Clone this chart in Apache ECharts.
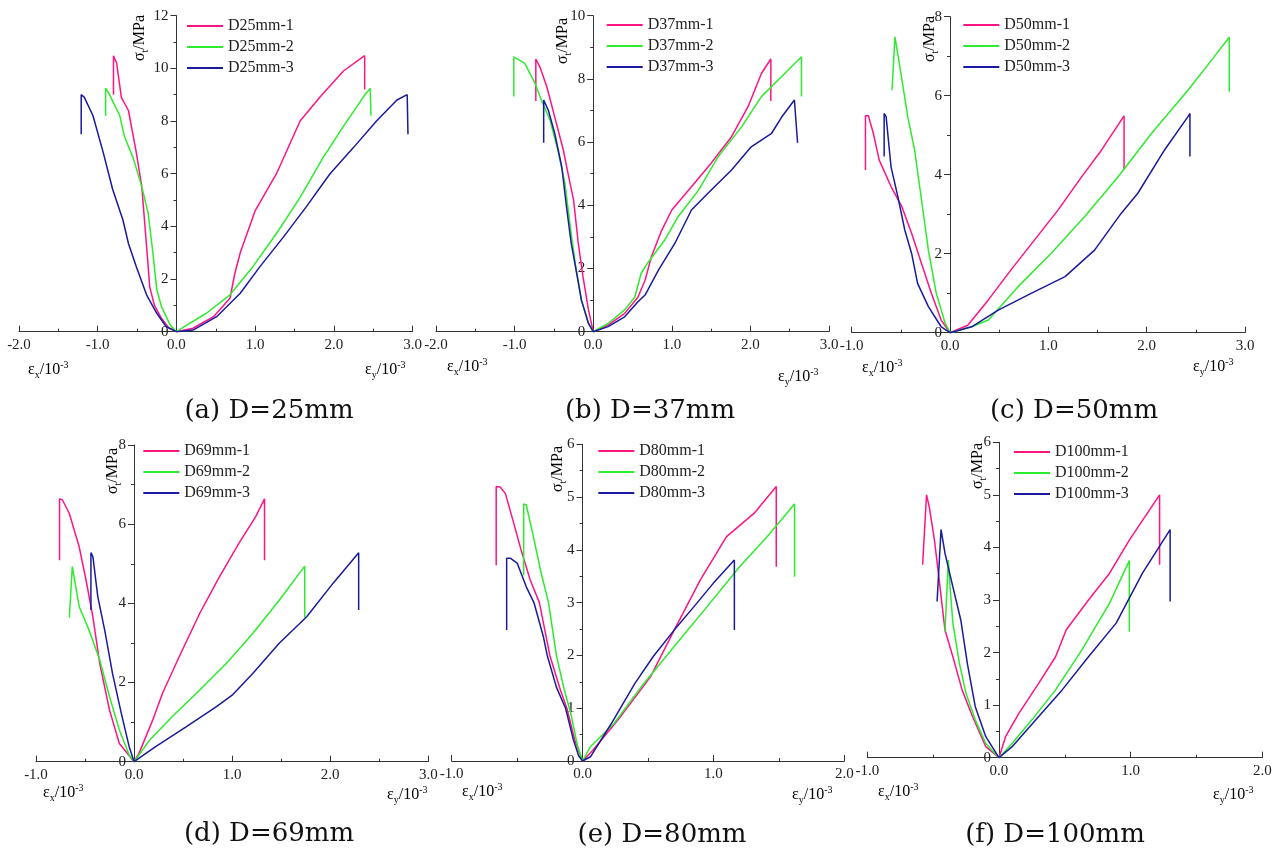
<!DOCTYPE html>
<html>
<head>
<meta charset="utf-8">
<script src="https://cdn.jsdelivr.net/npm/echarts@6.0.0/dist/echarts.min.js"></script>
<style>
  html, body { margin: 0; padding: 0; background: #fff; }
  #main { width: 1277px; height: 849px; }
</style>
</head>
<body>
<div id="main"></div>
<script>
"use strict";

// stress-strain curves, [strain (10^-3), stress (MPa)]
// left branch = lateral strain (negative), right branch = axial strain
var d25_1 = [[-0.80, 9.0], [-0.80, 10.48], [-0.76, 10.2], [-0.70, 8.9], [-0.61, 8.4], [-0.51, 6.8], [-0.44, 5.5], [-0.40, 4.0], [-0.36, 2.5], [-0.34, 1.7], [-0.28, 1.0], [-0.2, 0.55], [-0.1, 0.15], [0, 0],
  [0.21, 0.13], [0.47, 0.57], [0.68, 1.27], [0.74, 2.2], [0.81, 3.0], [1.0, 4.6], [1.27, 6.0], [1.57, 8.0], [1.82, 8.9], [2.12, 9.9], [2.39, 10.48], [2.39, 9.2]];
var d25_2 = [[-0.90, 8.2], [-0.90, 9.25], [-0.85, 9.0], [-0.72, 8.2], [-0.66, 7.4], [-0.55, 6.6], [-0.44, 5.5], [-0.36, 4.5], [-0.30, 3.0], [-0.25, 1.6], [-0.19, 0.95], [-0.08, 0.25], [0, 0],
  [0.13, 0.25], [0.38, 0.7], [0.68, 1.4], [0.97, 2.47], [1.27, 3.73], [1.57, 5.1], [1.86, 6.6], [2.12, 7.8], [2.37, 8.9], [2.46, 9.24], [2.47, 8.2]];
var d25_3 = [[-1.21, 7.5], [-1.21, 9.0], [-1.17, 8.9], [-1.06, 8.2], [-0.93, 6.8], [-0.81, 5.4], [-0.68, 4.24], [-0.61, 3.35], [-0.51, 2.47], [-0.38, 1.4], [-0.25, 0.7], [-0.13, 0.19], [0, 0],
  [0.21, 0.06], [0.51, 0.57], [0.81, 1.46], [1.06, 2.47], [1.36, 3.6], [1.65, 4.75], [1.95, 6.0], [2.25, 7.0], [2.54, 8.0], [2.8, 8.8], [2.93, 9.0], [2.94, 7.5]];

var d37_1 = [[-0.73, 7.3], [-0.73, 8.63], [-0.68, 8.39], [-0.59, 7.75], [-0.49, 6.8], [-0.38, 5.75], [-0.32, 5.0], [-0.25, 4.17], [-0.19, 2.8], [-0.13, 1.74], [-0.06, 0.69], [0, 0],
  [0.19, 0.21], [0.4, 0.58], [0.57, 1.1], [0.66, 1.63], [0.74, 2.37], [0.87, 3.2], [1.0, 3.85], [1.25, 4.59], [1.5, 5.33], [1.76, 6.17], [1.97, 7.12], [2.14, 8.17], [2.26, 8.63], [2.26, 7.3]];
var d37_2 = [[-1.01, 7.44], [-1.01, 8.7], [-0.87, 8.49], [-0.74, 7.86], [-0.66, 7.33], [-0.55, 6.7], [-0.45, 5.75], [-0.36, 4.7], [-0.28, 3.1], [-0.21, 1.85], [-0.15, 1.0], [-0.06, 0.26], [0, 0],
  [0.19, 0.26], [0.4, 0.69], [0.53, 1.1], [0.61, 1.85], [0.7, 2.2], [0.91, 2.9], [1.08, 3.64], [1.34, 4.48], [1.59, 5.54], [1.89, 6.49], [2.14, 7.44], [2.48, 8.28], [2.65, 8.7], [2.65, 7.44]];
var d37_3 = [[-0.63, 5.98], [-0.63, 7.33], [-0.57, 7.0], [-0.49, 6.28], [-0.40, 5.22], [-0.34, 3.96], [-0.28, 2.8], [-0.21, 1.85], [-0.15, 1.0], [-0.06, 0.26], [0, 0],
  [0.19, 0.16], [0.4, 0.47], [0.57, 0.95], [0.66, 1.16], [0.83, 1.95], [1.04, 2.8], [1.25, 3.85], [1.46, 4.38], [1.76, 5.12], [2.01, 5.85], [2.27, 6.28], [2.4, 6.8], [2.56, 7.33], [2.6, 5.98]];

var d50_1 = [[-0.86, 4.12], [-0.86, 5.49], [-0.83, 5.49], [-0.78, 5.05], [-0.72, 4.37], [-0.6, 3.7], [-0.49, 3.19], [-0.39, 2.51], [-0.29, 1.75], [-0.19, 1.0], [-0.09, 0.32], [0, 0],
  [0.18, 0.19], [0.39, 0.83], [0.62, 1.59], [0.86, 2.35], [1.1, 3.11], [1.34, 3.95], [1.54, 4.62], [1.77, 5.49], [1.77, 4.12]];
var d50_2 = [[-0.59, 6.14], [-0.56, 7.49], [-0.51, 6.73], [-0.43, 5.47], [-0.36, 4.62], [-0.29, 3.36], [-0.22, 2.09], [-0.14, 1.0], [-0.05, 0.24], [0, 0],
  [0.22, 0.15], [0.39, 0.32], [0.69, 1.16], [1.03, 2.01], [1.37, 2.94], [1.71, 3.95], [2.05, 5.05], [2.42, 6.14], [2.66, 6.9], [2.84, 7.48], [2.84, 6.1]];
var d50_3 = [[-0.67, 4.46], [-0.67, 5.55], [-0.65, 5.47], [-0.6, 4.2], [-0.53, 3.44], [-0.46, 2.6], [-0.39, 2.0], [-0.33, 1.25], [-0.22, 0.66], [-0.09, 0.15], [0, 0],
  [0.22, 0.15], [0.49, 0.57], [0.83, 1.0], [1.17, 1.42], [1.47, 2.09], [1.74, 3.02], [1.91, 3.53], [2.18, 4.62], [2.42, 5.47], [2.44, 5.55], [2.44, 4.46]];

var d69_1 = [[-0.76, 5.09], [-0.76, 6.64], [-0.73, 6.61], [-0.66, 6.27], [-0.56, 5.43], [-0.49, 4.59], [-0.42, 3.66], [-0.35, 2.48], [-0.25, 1.3], [-0.15, 0.46], [0, 0],
  [0.05, 0.21], [0.19, 1.05], [0.29, 1.73], [0.46, 2.65], [0.67, 3.75], [0.87, 4.67], [1.07, 5.52], [1.24, 6.19], [1.33, 6.64], [1.33, 5.09]];
var d69_2 = [[-0.66, 3.64], [-0.63, 4.93], [-0.56, 3.92], [-0.46, 3.33], [-0.35, 2.57], [-0.25, 1.64], [-0.15, 0.8], [-0.05, 0.17], [0, 0],
  [0.16, 0.55], [0.39, 1.14], [0.67, 1.81], [0.94, 2.48], [1.21, 3.24], [1.48, 4.08], [1.74, 4.94], [1.74, 3.64]];
var d69_3 = [[-0.44, 3.83], [-0.44, 5.28], [-0.42, 5.18], [-0.37, 4.17], [-0.3, 3.33], [-0.22, 2.23], [-0.13, 1.22], [-0.05, 0.38], [0, 0],
  [0.22, 0.38], [0.53, 0.88], [0.84, 1.39], [1.0, 1.68], [1.21, 2.23], [1.48, 2.99], [1.76, 3.66], [2.03, 4.51], [2.29, 5.28], [2.29, 3.83]];

var d80_1 = [[-0.66, 3.71], [-0.66, 5.2], [-0.63, 5.19], [-0.59, 5.07], [-0.54, 4.63], [-0.47, 4.0], [-0.4, 3.43], [-0.33, 3.0], [-0.25, 2.0], [-0.17, 1.35], [-0.12, 1.0], [-0.06, 0.4], [0, 0],
  [0.08, 0.21], [0.29, 0.84], [0.52, 1.6], [0.7, 2.48], [0.9, 3.43], [1.1, 4.25], [1.31, 4.69], [1.48, 5.2], [1.48, 3.68]];
var d80_2 = [[-0.45, 3.52], [-0.45, 4.87], [-0.43, 4.85], [-0.38, 4.3], [-0.32, 3.6], [-0.26, 3.0], [-0.2, 2.0], [-0.14, 1.35], [-0.09, 0.9], [-0.04, 0.3], [0, 0],
  [0.06, 0.27], [0.24, 0.71], [0.45, 1.41], [0.7, 2.17], [0.95, 2.92], [1.2, 3.68], [1.41, 4.25], [1.62, 4.87], [1.62, 3.49]];
var d80_3 = [[-0.58, 2.48], [-0.58, 3.84], [-0.55, 3.84], [-0.5, 3.75], [-0.43, 3.3], [-0.37, 2.99], [-0.3, 2.36], [-0.27, 2.0], [-0.2, 1.4], [-0.13, 1.0], [-0.07, 0.4], [-0.03, 0.1], [0, 0],
  [0.06, 0.08], [0.22, 0.71], [0.4, 1.47], [0.54, 1.98], [0.7, 2.48], [0.85, 2.92], [1.0, 3.37], [1.16, 3.81], [1.16, 2.48]];

var d100_1 = [[-0.58, 3.67], [-0.55, 5.0], [-0.53, 4.78], [-0.49, 4.14], [-0.46, 3.51], [-0.41, 2.43], [-0.35, 1.92], [-0.28, 1.29], [-0.2, 0.78], [-0.1, 0.21], [0, 0],
  [0.05, 0.4], [0.15, 0.84], [0.3, 1.41], [0.43, 1.92], [0.51, 2.43], [0.68, 3.0], [0.84, 3.51], [0.99, 4.14], [1.22, 5.0], [1.22, 3.67]];
var d100_2 = [[-0.41, 2.4], [-0.385, 3.76], [-0.37, 3.2], [-0.35, 2.56], [-0.3, 1.79], [-0.25, 1.22], [-0.18, 0.72], [-0.1, 0.27], [0, 0],
  [0.1, 0.27], [0.25, 0.72], [0.43, 1.29], [0.63, 2.05], [0.84, 2.94], [0.99, 3.75], [0.99, 2.4]];
var d100_3 = [[-0.47, 2.97], [-0.44, 4.34], [-0.41, 3.89], [-0.35, 3.25], [-0.29, 2.62], [-0.24, 1.79], [-0.18, 0.97], [-0.1, 0.4], [0, 0],
  [0.1, 0.21], [0.28, 0.72], [0.48, 1.29], [0.68, 1.92], [0.89, 2.56], [1.09, 3.51], [1.3, 4.34], [1.3, 2.97]];

var panels = [
  { cap: "(a) D=25mm", names: ["D25mm-1", "D25mm-2", "D25mm-3"], data: [d25_1, d25_2, d25_3], xMin: -2, xMax: 3, yMax: 12, yStep: 2 },
  { cap: "(b) D=37mm", names: ["D37mm-1", "D37mm-2", "D37mm-3"], data: [d37_1, d37_2, d37_3], xMin: -2, xMax: 3, yMax: 10, yStep: 2 },
  { cap: "(c) D=50mm", names: ["D50mm-1", "D50mm-2", "D50mm-3"], data: [d50_1, d50_2, d50_3], xMin: -1, xMax: 3, yMax: 8, yStep: 2 },
  { cap: "(d) D=69mm", names: ["D69mm-1", "D69mm-2", "D69mm-3"], data: [d69_1, d69_2, d69_3], xMin: -1, xMax: 3, yMax: 8, yStep: 2 },
  { cap: "(e) D=80mm", names: ["D80mm-1", "D80mm-2", "D80mm-3"], data: [d80_1, d80_2, d80_3], xMin: -1, xMax: 2, yMax: 6, yStep: 1 },
  { cap: "(f) D=100mm", names: ["D100mm-1", "D100mm-2", "D100mm-3"], data: [d100_1, d100_2, d100_3], xMin: -1, xMax: 2, yMax: 6, yStep: 1 }
];

// where each panel sits on the page
var layout = [
  { grid: [19, 15.7, 393.7, 316], legend: [187, 18], yName: [140, 38], exName: [28, 370], eyName: [365, 370], cap: [269, 411] },
  { grid: [436, 15.7, 393, 316], legend: [606.7, 17], yName: [563, 41], exName: [447, 367], eyName: [778, 377], cap: [650, 411] },
  { grid: [851.7, 16.7, 393.3, 316], legend: [963.3, 17], yName: [930, 39], exName: [862, 368], eyName: [1193, 367], cap: [1074, 411] },
  { grid: [36, 445, 392.3, 316.7], legend: [143.3, 443], yName: [113, 471], exName: [43, 793], eyName: [387, 795], cap: [269, 834] },
  { grid: [451.7, 444.3, 392.6, 316.7], legend: [598.3, 443], yName: [558, 469], exName: [462, 792], eyName: [792, 795], cap: [662, 835] },
  { grid: [867.3, 442.3, 395, 315.4], legend: [1014, 444], yName: [978, 466], exName: [878, 792], eyName: [1213, 795], cap: [1055, 835] }
];

var colors = ["#FF1483", "#2EEB2E", "#1A1A9E"];
var axisColor = "#333";
var serif = "Liberation Serif";

var chart = echarts.init(document.getElementById("main"));

var grids = [], xAxes = [], yAxes = [], legends = [], series = [], graphics = [];

var nameRich = {
  n: { fontFamily: serif, fontSize: 16, color: "#222", lineHeight: 20 },
  s: { fontFamily: serif, fontSize: 10, color: "#222", lineHeight: 10, verticalAlign: "bottom" },
  p: { fontFamily: serif, fontSize: 10, color: "#222", lineHeight: 10, verticalAlign: "top" }
};

panels.forEach(function (p, i) {
  var L = layout[i];
  var w = L.grid[2];
  grids.push({ left: L.grid[0], top: L.grid[1], width: w, height: L.grid[3], outerBoundsMode: "none", containLabel: false });

  xAxes.push({
    gridIndex: i, type: "value", min: p.xMin, max: p.xMax, interval: 1,
    axisLine: { show: true, onZero: false, lineStyle: { color: axisColor, width: 1 } },
    axisTick: { show: true, inside: true, length: 6, lineStyle: { color: axisColor } },
    minorTick: { show: true, splitNumber: 2, length: 3, lineStyle: { color: axisColor } },
    axisLabel: {
      showMinLabel: true, showMaxLabel: true, margin: 6,
      color: "#222", fontSize: 15, fontFamily: serif,
      formatter: function (v) { return v.toFixed(1); }
    },
    splitLine: { show: false }
  });

  // the stress axis stands at zero strain: shift it in from the grid's left edge
  var shift = (0 - p.xMin) / (p.xMax - p.xMin) * w;
  yAxes.push({
    gridIndex: i, type: "value", min: 0, max: p.yMax, interval: p.yStep,
    position: "left", offset: -shift,
    axisLine: { show: true, onZero: false, lineStyle: { color: axisColor, width: 1 } },
    axisTick: { show: true, length: 6, lineStyle: { color: axisColor } },
    minorTick: { show: true, splitNumber: 2, length: 3, lineStyle: { color: axisColor } },
    axisLabel: { showMinLabel: true, showMaxLabel: true, margin: 8, color: "#222", fontSize: 15, fontFamily: serif },
    splitLine: { show: false }
  });

  legends.push({
    orient: "vertical", left: L.legend[0], top: L.legend[1], padding: 0,
    data: p.names, icon: "rect", itemWidth: 36, itemHeight: 2, itemGap: 5,
    selectedMode: false,
    textStyle: { fontFamily: serif, fontSize: 16, color: "#222", lineHeight: 16 }
  });

  p.data.forEach(function (d, j) {
    series.push({
      name: p.names[j], type: "line", xAxisIndex: i, yAxisIndex: i,
      data: d, showSymbol: false, symbol: "none", animation: false,
      lineStyle: { width: 1.5, color: colors[j] }, itemStyle: { color: colors[j] }
    });
  });

  graphics.push({
    type: "text", x: L.yName[0], y: L.yName[1], rotation: Math.PI / 2,
    style: { text: "{n|σ}{s|t}{n|/MPa}", rich: nameRich, align: "center", verticalAlign: "middle" }
  });
  graphics.push({
    type: "text", x: L.exName[0], y: L.exName[1],
    style: { text: "{n|ε}{s|x}{n|/10}{p|-3}", rich: nameRich, align: "left", verticalAlign: "middle" }
  });
  graphics.push({
    type: "text", x: L.eyName[0], y: L.eyName[1],
    style: { text: "{n|ε}{s|y}{n|/10}{p|-3}", rich: nameRich, align: "left", verticalAlign: "middle" }
  });
  graphics.push({
    type: "text", x: L.cap[0], y: L.cap[1],
    style: { text: p.cap, fontFamily: "DejaVu Serif", fontSize: 26, fill: "#111", align: "center", verticalAlign: "middle" }
  });
});

chart.setOption({
  backgroundColor: "#fff",
  animation: false,
  grid: grids,
  xAxis: xAxes,
  yAxis: yAxes,
  legend: legends,
  series: series,
  graphic: graphics
});
</script>
</body>
</html>
